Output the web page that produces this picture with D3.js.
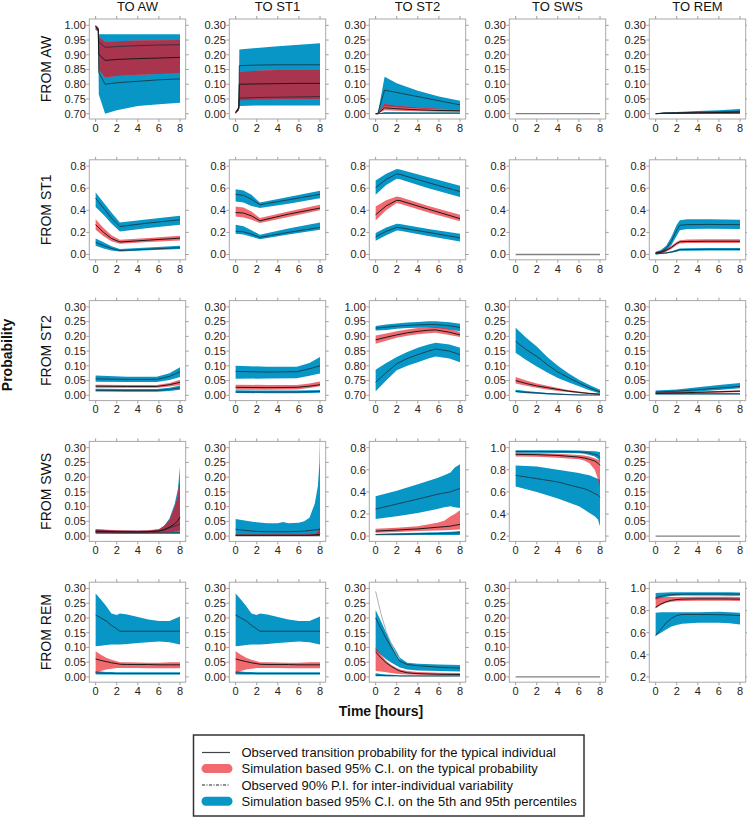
<!DOCTYPE html>
<html><head><meta charset="utf-8">
<script src="https://cdn.jsdelivr.net/npm/d3@7"></script>
<style>body{margin:0;background:#fff}svg{display:block;font-family:"Liberation Sans",Arial,sans-serif}</style>
</head><body><svg id="c" width="747" height="817"></svg>
<script>
// ---------------- DATA ----------------
const fromStates = ["AW", "ST1", "ST2", "SWS", "REM"];
const toStates = ["AW", "ST1", "ST2", "SWS", "REM"];
const xTicks = [0, 2, 4, 6, 8];
const tk030 = [0, 0.05, 0.10, 0.15, 0.20, 0.25, 0.30];
const tk70 = [0.70, 0.75, 0.80, 0.85, 0.90, 0.95, 1.00];
const tk08 = [0, 0.2, 0.4, 0.6, 0.8];
const tk21 = [0.2, 0.4, 0.6, 0.8, 1.0];
const legendLabels = [
  "Observed transition probability for the typical individual",
  "Simulation based 95% C.I. on the typical probability",
  "Observed 90% P.I. for inter-individual variability",
  "Simulation based 95% C.I. on the 5th and 95th percentiles"];

// u* = 95th percentile band, r* = typical (red) band, l* = 5th percentile band
const AW_AW = {t:[0,0.25,0.3,0.9,2,4,6,8],
  uTop:[0.995,0.99,0.97,0.97,0.97,0.97,0.97,0.97], uBot:[0.99,0.985,0.86,0.86,0.86,0.86,0.86,0.86],
  uLine:[1.0,0.99,0.944,0.925,0.928,0.931,0.933,0.934],
  rTop:[0.998,0.99,0.96,0.944,0.946,0.948,0.949,0.95], rBot:[0.985,0.98,0.848,0.823,0.828,0.832,0.835,0.837],
  med:[0.997,0.985,0.901,0.881,0.884,0.887,0.889,0.891],
  lTop:[0.99,0.985,0.88,0.87,0.87,0.87,0.87,0.87], lBot:[0.985,0.98,0.765,0.70,0.712,0.726,0.732,0.737],
  lLine:[0.997,0.985,0.84,0.80,0.805,0.81,0.815,0.818]};
const AW_ST1 = {t:[0,0.3,0.35,2,4,6,8],
  uTop:[0.003,0.022,0.218,0.223,0.229,0.234,0.239], uBot:[0,0.012,0.13,0.13,0.13,0.13,0.13],
  uLine:[0.005,0.02,0.163,0.165,0.166,0.166,0.166],
  rTop:[0.008,0.025,0.142,0.146,0.148,0.149,0.15], rBot:[0,0.012,0.046,0.047,0.048,0.049,0.049],
  med:[0.004,0.018,0.10,0.101,0.102,0.103,0.103],
  lTop:[0.003,0.02,0.14,0.14,0.14,0.14,0.14], lBot:[0,0.012,0.026,0.028,0.028,0.028,0.028],
  lLine:[0.004,0.018,0.053,0.055,0.056,0.057,0.058]};
const AW_ST2 = {t:[0,0.2,0.85,2,4,6,8],
  uTop:[0,0,0.125,0.103,0.078,0.058,0.044], uBot:[0,0,0.025,0.022,0.018,0.015,0.013],
  uLine:[0,0,0.08,0.072,0.058,0.044,0.03],
  rTop:[0,0,0.033,0.027,0.021,0.017,0.015], rBot:[0,0,0.012,0.01,0.008,0.007,0.006],
  med:[0,0,0.02,0.017,0.013,0.011,0.01],
  lTop:[0,0,0.005,0.005,0.004,0.004,0.004], lBot:[0,0,0,0,0,0,0],
  lLine:[0,0,0.002,0.002,0.002,0.002,0.002]};
const AW_REM = {t:[0,0.8,2,4,6,8],
  uTop:[0,0.004,0.006,0.009,0.012,0.016], uBot:[0,0,0.001,0.002,0.002,0.003],
  uLine:[0,0.002,0.003,0.005,0.006,0.008],
  rTop:[0,0.002,0.003,0.004,0.005,0.006], rBot:[0,0.001,0.001,0.002,0.002,0.003],
  med:[0,0.002,0.002,0.003,0.004,0.005],
  lTop:[0,0.001,0.001,0.001,0.001,0.001], lBot:[0,0,0,0,0,0],
  lLine:[0,0.001,0.001,0.001,0.001,0.001]};

const ST1_AW = {t:[0,0.75,1.5,2.3,5,8],
  uTop:[0.56,0.47,0.38,0.29,0.32,0.35], uBot:[0.43,0.36,0.28,0.208,0.24,0.27],
  uLine:[0.51,0.42,0.33,0.253,0.285,0.314],
  rTop:[0.32,0.24,0.175,0.133,0.15,0.17], rBot:[0.225,0.165,0.12,0.097,0.112,0.127],
  med:[0.27,0.2,0.145,0.113,0.13,0.148],
  lTop:[0.145,0.11,0.075,0.049,0.064,0.079], lBot:[0.079,0.055,0.037,0.027,0.038,0.049],
  lLine:[0.11,0.08,0.055,0.035,0.048,0.062]};
const ST1_ST1 = {t:[0,0.75,1.5,2.3,5,8],
  uTop:[0.59,0.58,0.54,0.47,0.52,0.576], uBot:[0.48,0.47,0.44,0.42,0.46,0.51],
  uLine:[0.545,0.535,0.5,0.45,0.495,0.545],
  rTop:[0.434,0.425,0.39,0.33,0.39,0.45], rBot:[0.344,0.335,0.315,0.284,0.34,0.40],
  med:[0.38,0.375,0.35,0.305,0.365,0.42],
  lTop:[0.269,0.255,0.22,0.178,0.235,0.29], lBot:[0.187,0.18,0.16,0.139,0.18,0.224],
  lLine:[0.21,0.205,0.185,0.155,0.2,0.245]};
const ST1_ST2 = {t:[0,1,2,2.3,5,8],
  uTop:[0.67,0.73,0.773,0.77,0.70,0.622], uBot:[0.54,0.63,0.685,0.68,0.60,0.52],
  uLine:[0.605,0.68,0.73,0.725,0.65,0.57],
  rTop:[0.434,0.49,0.525,0.52,0.44,0.36], rBot:[0.308,0.40,0.465,0.46,0.38,0.30],
  med:[0.36,0.44,0.49,0.488,0.41,0.325],
  lTop:[0.194,0.245,0.278,0.275,0.23,0.187], lBot:[0.124,0.175,0.217,0.215,0.168,0.118],
  lLine:[0.16,0.21,0.245,0.243,0.2,0.15]};
const ST1_REM = {t:[0,0.5,1,1.5,2,2.3,3,5,8],
  uTop:[0.025,0.04,0.08,0.16,0.27,0.31,0.32,0.32,0.315], uBot:[0.005,0.012,0.035,0.085,0.17,0.22,0.23,0.232,0.23],
  uLine:[0.015,0.025,0.055,0.12,0.22,0.265,0.27,0.272,0.27],
  rTop:[0.02,0.03,0.05,0.08,0.115,0.13,0.135,0.137,0.137], rBot:[0.005,0.01,0.025,0.05,0.085,0.1,0.103,0.105,0.105],
  med:[0.012,0.02,0.037,0.065,0.1,0.115,0.118,0.12,0.12],
  lTop:[0.01,0.015,0.02,0.03,0.045,0.055,0.057,0.058,0.058], lBot:[0,0.005,0.008,0.015,0.025,0.033,0.035,0.036,0.036],
  lLine:[0.005,0.01,0.014,0.022,0.035,0.044,0.045,0.046,0.046]};

const ST2_AW = {t:[0,3,5.8,7,8],
  uTop:[0.067,0.063,0.063,0.075,0.095], uBot:[0.046,0.045,0.045,0.052,0.062],
  uLine:[0.056,0.054,0.054,0.064,0.08],
  rTop:[0.036,0.035,0.035,0.042,0.053], rBot:[0.026,0.026,0.026,0.03,0.035],
  med:[0.031,0.03,0.03,0.036,0.044],
  lTop:[0.022,0.021,0.021,0.026,0.033], lBot:[0.013,0.012,0.012,0.015,0.019],
  lLine:[0.017,0.016,0.016,0.02,0.025]};
const ST2_ST1 = {t:[0,3,5.8,7,8],
  uTop:[0.10,0.097,0.097,0.11,0.13], uBot:[0.056,0.057,0.058,0.066,0.074],
  uLine:[0.081,0.079,0.08,0.09,0.10],
  rTop:[0.036,0.035,0.035,0.04,0.047], rBot:[0.019,0.019,0.02,0.025,0.031],
  med:[0.027,0.026,0.027,0.031,0.036],
  lTop:[0.017,0.016,0.016,0.017,0.018], lBot:[0.008,0.007,0.007,0.008,0.009],
  lLine:[0.011,0.011,0.011,0.012,0.013]};
const ST2_ST2 = {t:[0,1,2,3,4,5,5.7,7,8],
  uTop:[0.935,0.94,0.944,0.947,0.949,0.951,0.951,0.948,0.943], uBot:[0.92,0.922,0.926,0.928,0.929,0.93,0.929,0.923,0.917],
  uLine:[0.928,0.931,0.935,0.937,0.939,0.94,0.94,0.936,0.93],
  rTop:[0.903,0.91,0.917,0.923,0.928,0.931,0.932,0.925,0.915], rBot:[0.875,0.885,0.895,0.902,0.907,0.911,0.912,0.905,0.898],
  med:[0.888,0.897,0.905,0.912,0.917,0.921,0.922,0.914,0.905],
  lTop:[0.787,0.81,0.83,0.847,0.861,0.872,0.878,0.872,0.861], lBot:[0.714,0.75,0.785,0.80,0.812,0.825,0.832,0.825,0.812],
  lLine:[0.744,0.777,0.807,0.825,0.838,0.85,0.857,0.85,0.838]};
const ST2_SWS = {t:[0,1,2,3,4,5,6,7,8],
  uTop:[0.229,0.195,0.166,0.13,0.10,0.075,0.053,0.035,0.019], uBot:[0.144,0.12,0.098,0.077,0.059,0.044,0.031,0.017,0.006],
  uLine:[0.183,0.155,0.132,0.104,0.079,0.06,0.042,0.025,0.012],
  rTop:[0.062,0.05,0.04,0.032,0.025,0.018,0.013,0.009,0.006], rBot:[0.04,0.032,0.026,0.02,0.015,0.011,0.007,0.004,0.002],
  med:[0.05,0.04,0.032,0.026,0.02,0.014,0.01,0.006,0.004],
  lTop:[0.019,0.015,0.011,0.008,0.006,0.004,0.003,0.002,0.002], lBot:[0.01,0.007,0.005,0.003,0.002,0.001,0,0,0],
  lLine:[0.013,0.01,0.008,0.006,0.004,0.002,0.001,0.001,0.001]};
const ST2_REM = {t:[0,2,4,6,8],
  uTop:[0.016,0.02,0.027,0.035,0.042], uBot:[0.006,0.009,0.013,0.018,0.024],
  uLine:[0.011,0.014,0.019,0.025,0.03],
  rTop:[0.009,0.011,0.013,0.015,0.017], rBot:[0.005,0.006,0.008,0.009,0.011],
  med:[0.007,0.008,0.01,0.012,0.014],
  lTop:[0.007,0.007,0.007,0.007,0.007], lBot:[0.003,0.003,0.003,0.003,0.003],
  lLine:[0.005,0.005,0.005,0.005,0.005]};

const SWS_AW = {t:[0,2,4,5,6,6.5,7,7.5,7.8,8],
  uTop:[0.022,0.019,0.018,0.019,0.022,0.035,0.06,0.11,0.16,0.235], uBot:[0.012,0.011,0.011,0.011,0.012,0.013,0.013,0.013,0.013,0.013],
  uLine:[0.017,0.015,0.015,0.015,0.017,0.021,0.028,0.034,0.038,0.042],
  rTop:[0.024,0.02,0.019,0.02,0.024,0.035,0.055,0.1,0.14,0.2], rBot:[0.011,0.01,0.01,0.01,0.011,0.012,0.013,0.015,0.017,0.02],
  med:[0.016,0.015,0.014,0.015,0.017,0.022,0.03,0.042,0.052,0.065],
  lTop:[0.014,0.013,0.013,0.013,0.014,0.014,0.014,0.014,0.014,0.014], lBot:[0.008,0.008,0.008,0.008,0.008,0.008,0.008,0.008,0.008,0.008],
  lLine:[0.011,0.011,0.011,0.011,0.011,0.011,0.011,0.011,0.011,0.011]};
const SWS_ST1 = {t:[0,1,2,3,4,4.5,5,6,6.5,7,7.5,7.8,7.95,8],
  uTop:[0.058,0.052,0.047,0.044,0.044,0.048,0.044,0.045,0.05,0.062,0.11,0.17,0.25,0.34], uBot:[0.003,0.003,0.003,0.003,0.003,0.003,0.003,0.003,0.003,0.003,0.003,0.003,0.003,0.003],
  uLine:[0.023,0.019,0.016,0.015,0.015,0.015,0.015,0.016,0.017,0.019,0.021,0.022,0.023,0.024],
  rTop:[0.005,0.005,0.005,0.005,0.005,0.005,0.005,0.005,0.005,0.006,0.008,0.015,0.03,0.05], rBot:[0.001,0.001,0.001,0.001,0.001,0.001,0.001,0.001,0.001,0.001,0.001,0.001,0.001,0.001],
  med:[0.003,0.003,0.003,0.003,0.003,0.003,0.003,0.003,0.003,0.003,0.004,0.005,0.006,0.008],
  lTop:[0.003,0.003,0.003,0.003,0.003,0.003,0.003,0.003,0.003,0.003,0.003,0.003,0.003,0.003], lBot:[0,0,0,0,0,0,0,0,0,0,0,0,0,0],
  lLine:[0.001,0.001,0.001,0.001,0.001,0.001,0.001,0.001,0.001,0.001,0.001,0.001,0.001,0.001]};
const SWS_ST2 = {t:[0,2,4,5.85,6.5,7.1,7.5,8],
  uTop:[0.36,0.41,0.47,0.525,0.55,0.575,0.62,0.65], uBot:[0.155,0.18,0.21,0.245,0.26,0.27,0.26,0.255],
  uLine:[0.245,0.29,0.335,0.378,0.39,0.40,0.415,0.43],
  rTop:[0.067,0.075,0.09,0.12,0.14,0.18,0.2,0.235], rBot:[0.031,0.038,0.045,0.05,0.052,0.055,0.058,0.06],
  med:[0.045,0.055,0.065,0.08,0.085,0.09,0.098,0.105],
  lTop:[0.02,0.025,0.03,0.035,0.037,0.04,0.042,0.045], lBot:[0.008,0.008,0.009,0.01,0.01,0.01,0.01,0.01],
  lLine:[0.015,0.017,0.02,0.023,0.025,0.027,0.028,0.03]};
const SWS_SWS = {t:[0,2,4,6,6.5,7,7.5,7.8,8],
  uTop:[0.978,0.978,0.977,0.975,0.973,0.97,0.967,0.963,0.96], uBot:[0.955,0.954,0.953,0.95,0.945,0.935,0.92,0.9,0.87],
  uLine:[0.965,0.965,0.964,0.962,0.958,0.952,0.94,0.93,0.91],
  rTop:[0.955,0.952,0.945,0.935,0.93,0.92,0.905,0.89,0.88], rBot:[0.92,0.917,0.91,0.895,0.885,0.86,0.8,0.72,0.64],
  med:[0.94,0.937,0.93,0.915,0.907,0.895,0.88,0.86,0.84],
  lTop:[0.84,0.83,0.80,0.77,0.76,0.75,0.73,0.72,0.71], lBot:[0.65,0.60,0.54,0.47,0.44,0.41,0.38,0.35,0.29],
  lLine:[0.75,0.72,0.69,0.64,0.63,0.61,0.585,0.57,0.55]};

const REM_AW = {t:[0,0.5,1,1.5,2,2.3,3,4,5,6,7,8],
  uTop:[0.283,0.263,0.241,0.215,0.21,0.215,0.212,0.203,0.195,0.19,0.19,0.205], uBot:[0.104,0.106,0.108,0.11,0.11,0.11,0.112,0.115,0.118,0.12,0.118,0.11],
  uLine:[0.21,0.2,0.19,0.175,0.163,0.155,0.155,0.155,0.155,0.155,0.155,0.155],
  rTop:[0.087,0.075,0.065,0.058,0.053,0.05,0.05,0.049,0.048,0.048,0.05,0.05], rBot:[0.014,0.02,0.025,0.028,0.03,0.03,0.03,0.03,0.029,0.029,0.029,0.029],
  med:[0.061,0.056,0.052,0.048,0.045,0.043,0.042,0.042,0.042,0.041,0.041,0.041],
  lTop:[0.019,0.018,0.017,0.017,0.016,0.016,0.016,0.016,0.016,0.016,0.016,0.016], lBot:[0.008,0.008,0.008,0.008,0.008,0.008,0.008,0.008,0.008,0.008,0.008,0.008],
  lLine:[0.014,0.013,0.012,0.012,0.011,0.011,0.011,0.011,0.011,0.011,0.011,0.011]};
const REM_ST1 = REM_AW;
const REM_ST2 = {t:[0,0.5,1,1.5,2,2.3,3,4,6,8],
  uTop:[0.227,0.19,0.15,0.115,0.085,0.065,0.048,0.045,0.042,0.04], uBot:[0.09,0.075,0.06,0.048,0.038,0.032,0.025,0.022,0.02,0.018],
  uLine:[0.2,0.165,0.13,0.1,0.07,0.053,0.042,0.038,0.033,0.03],
  rTop:[0.1,0.075,0.055,0.04,0.03,0.025,0.02,0.017,0.014,0.013], rBot:[0.02,0.018,0.016,0.013,0.011,0.01,0.008,0.007,0.006,0.006],
  med:[0.085,0.065,0.048,0.035,0.025,0.02,0.014,0.011,0.009,0.008],
  lTop:[0.012,0.01,0.008,0.007,0.006,0.005,0.005,0.005,0.005,0.005], lBot:[0.002,0.002,0.002,0.002,0.002,0.002,0.002,0.002,0.002,0.002],
  lLine:[0.006,0.005,0.004,0.004,0.004,0.003,0.003,0.003,0.003,0.003],
  gray:[0.29,0.215,0.155,0.11,0.075,0.058]};
const REM_REM = {t:[0,0.5,1,1.5,2,2.5,4,6,7,8],
  uTop:[0.96,0.962,0.964,0.965,0.965,0.965,0.965,0.965,0.965,0.963], uBot:[0.90,0.915,0.925,0.932,0.935,0.936,0.936,0.936,0.935,0.934],
  uLine:[0.918,0.93,0.94,0.945,0.948,0.949,0.95,0.95,0.95,0.949],
  rTop:[0.918,0.92,0.922,0.923,0.923,0.924,0.925,0.925,0.925,0.924], rBot:[0.82,0.85,0.87,0.88,0.885,0.888,0.89,0.89,0.889,0.888],
  med:[0.83,0.86,0.88,0.893,0.9,0.904,0.906,0.906,0.905,0.904],
  lTop:[0.78,0.785,0.785,0.785,0.785,0.785,0.785,0.79,0.785,0.78], lBot:[0.57,0.60,0.63,0.655,0.67,0.68,0.69,0.69,0.685,0.675],
  lLine:[0.575,0.63,0.69,0.73,0.755,0.765,0.765,0.763,0.76,0.755]};

const dataGrid = [
  [AW_AW, AW_ST1, AW_ST2, null, AW_REM],
  [ST1_AW, ST1_ST1, ST1_ST2, null, ST1_REM],
  [ST2_AW, ST2_ST1, ST2_ST2, ST2_SWS, ST2_REM],
  [SWS_AW, SWS_ST1, SWS_ST2, SWS_SWS, null],
  [REM_AW, REM_ST1, REM_ST2, null, REM_REM]];
const tickGrid = [
  [tk70, tk030, tk030, tk030, tk030],
  [tk08, tk08, tk08, tk08, tk08],
  [tk030, tk030, tk70, tk030, tk030],
  [tk030, tk030, tk08, tk21, tk030],
  [tk030, tk030, tk030, tk030, tk21]];

// ---------------- DRAW ----------------
const BLUE = "#0796c6", RED = "#f06a70", MAROON = "#a8344e";
const svg = d3.select("#c");
const W = 96.4, H = 100;

dataGrid.forEach((row, i) => {
  row.forEach((D, j) => {
    const left = 89.3 + j * 140, top = 19 + i * 140.8;
    const ticks = tickGrid[i][j];
    const lo = ticks[0], hi = ticks[ticks.length - 1], d = hi - lo;
    const x = d3.scaleLinear().domain([-0.6, 8.54]).range([left, left + W]);
    const y = d3.scaleLinear().domain([lo - 0.06 * d, hi + 0.0713 * d]).range([top + H, top]);
    const cid = "clip" + i + j;
    svg.append("clipPath").attr("id", cid).append("rect")
      .attr("x", left).attr("y", top).attr("width", W).attr("height", H);
    const g = svg.append("g").attr("clip-path", `url(#${cid})`);

    if (D) {
      const idx = D.t.map((_, k) => k);
      const band = (a, b) => d3.area().x(k => x(D.t[k])).y0(k => y(a[k])).y1(k => y(b[k]))(idx);
      const ln = arr => d3.line().x(k => x(D.t[k])).y(k => y(arr[k]))(idx);
      const uP = band(D.uBot, D.uTop), lP = band(D.lBot, D.lTop), rP = band(D.rBot, D.rTop);
      g.append("path").attr("d", uP).attr("fill", BLUE);
      g.append("path").attr("d", lP).attr("fill", BLUE);
      g.append("path").attr("d", rP).attr("fill", RED);
      // darker tone where the red band lies over a blue band
      const bid = "blue" + i + j;
      const bc = svg.append("clipPath").attr("id", bid);
      bc.append("path").attr("d", uP);
      bc.append("path").attr("d", lP);
      g.append("g").attr("clip-path", `url(#${bid})`)
        .append("path").attr("d", rP).attr("fill", MAROON);
      g.append("path").attr("d", ln(D.uLine)).attr("fill", "none").attr("stroke", "#1c2f3a").attr("stroke-width", 0.8);
      g.append("path").attr("d", ln(D.lLine)).attr("fill", "none").attr("stroke", "#1c2f3a").attr("stroke-width", 0.8);
      g.append("path").attr("d", ln(D.med)).attr("fill", "none").attr("stroke", "#1a1a1a").attr("stroke-width", 1);
      if (D.gray) {
        const gi = D.gray.map((_, k) => k);
        g.append("path").attr("d", d3.line().x(k => x(D.t[k])).y(k => y(D.gray[k]))(gi))
          .attr("fill", "none").attr("stroke", "#b0b0b0").attr("stroke-width", 1);
      }
    } else {
      g.append("line").attr("x1", x(0)).attr("x2", x(8)).attr("y1", y(0)).attr("y2", y(0))
        .attr("stroke", "#808080").attr("stroke-width", 1.3);
    }

    // frame
    svg.append("rect").attr("x", left).attr("y", top).attr("width", W).attr("height", H)
      .attr("fill", "none").attr("stroke", "#a8a8a8").attr("stroke-width", 1);
    const tg = svg.append("g").attr("stroke", "#a0a0a0").attr("stroke-width", 1);
    xTicks.forEach(v => {
      tg.append("line").attr("x1", x(v)).attr("x2", x(v)).attr("y1", top + H).attr("y2", top + H + 3);
      tg.append("line").attr("x1", x(v)).attr("x2", x(v)).attr("y1", top).attr("y2", top - 3);
    });
    ticks.forEach(v => {
      tg.append("line").attr("x1", left).attr("x2", left - 3).attr("y1", y(v)).attr("y2", y(v));
      tg.append("line").attr("x1", left + W).attr("x2", left + W + 3).attr("y1", y(v)).attr("y2", y(v));
    });
    const dec = (ticks[1] - ticks[0]) < 0.1 ? 2 : 1;
    svg.append("g").selectAll("text").data(ticks).join("text")
      .attr("x", left - 3.5).attr("y", v => y(v)).attr("dy", "0.35em")
      .attr("text-anchor", "end").attr("font-size", 11).attr("fill", "#222")
      .text(v => v.toFixed(dec));
    svg.append("g").selectAll("text").data(xTicks).join("text")
      .attr("x", v => x(v)).attr("y", top + H + 12.7)
      .attr("text-anchor", "middle").attr("font-size", 11).attr("fill", "#222")
      .text(v => String(v));

    if (i === 0) {
      svg.append("text").attr("x", left + W / 2).attr("y", 10.5).attr("text-anchor", "middle")
        .attr("font-size", 13).attr("fill", "#111").text("TO " + toStates[j]);
    }
    if (j === 0) {
      svg.append("text").attr("transform", `translate(46,${top + H / 2}) rotate(-90)`)
        .attr("text-anchor", "middle").attr("dy", "0.35em")
        .attr("font-size", 14).attr("fill", "#111").text("FROM " + fromStates[i]);
    }
  });
});

svg.append("text").attr("transform", "translate(7,355) rotate(-90)")
  .attr("text-anchor", "middle").attr("dy", "0.35em").attr("font-weight", "bold")
  .attr("font-size", 14).attr("fill", "#111").text("Probability");
svg.append("text").attr("x", 381).attr("y", 716).attr("text-anchor", "middle")
  .attr("font-weight", "bold").attr("font-size", 14).attr("fill", "#111").text("Time [hours]");

// legend
const lg = svg.append("g");
lg.append("rect").attr("x", 193.5).attr("y", 735).attr("width", 390.5).attr("height", 81)
  .attr("fill", "#fff").attr("stroke", "#333").attr("stroke-width", 1.5);
const ly = [752.5, 768.6, 785, 801.2];
lg.append("line").attr("x1", 202).attr("x2", 230).attr("y1", ly[0]).attr("y2", ly[0])
  .attr("stroke", "#444").attr("stroke-width", 1.2);
lg.append("line").attr("x1", 206).attr("x2", 228).attr("y1", ly[1]).attr("y2", ly[1])
  .attr("stroke", RED).attr("stroke-width", 9).attr("stroke-linecap", "round");
lg.append("line").attr("x1", 202).attr("x2", 230).attr("y1", ly[2]).attr("y2", ly[2])
  .attr("stroke", "#222").attr("stroke-width", 1).attr("stroke-dasharray", "3,1.5,1,1.5");
lg.append("line").attr("x1", 206).attr("x2", 228).attr("y1", ly[3]).attr("y2", ly[3])
  .attr("stroke", BLUE).attr("stroke-width", 9).attr("stroke-linecap", "round");
legendLabels.forEach((s, k) => {
  lg.append("text").attr("x", 241.5).attr("y", ly[k]).attr("dy", "0.35em")
    .attr("font-size", 13).attr("fill", "#111").text(s);
});
</script></body></html>
